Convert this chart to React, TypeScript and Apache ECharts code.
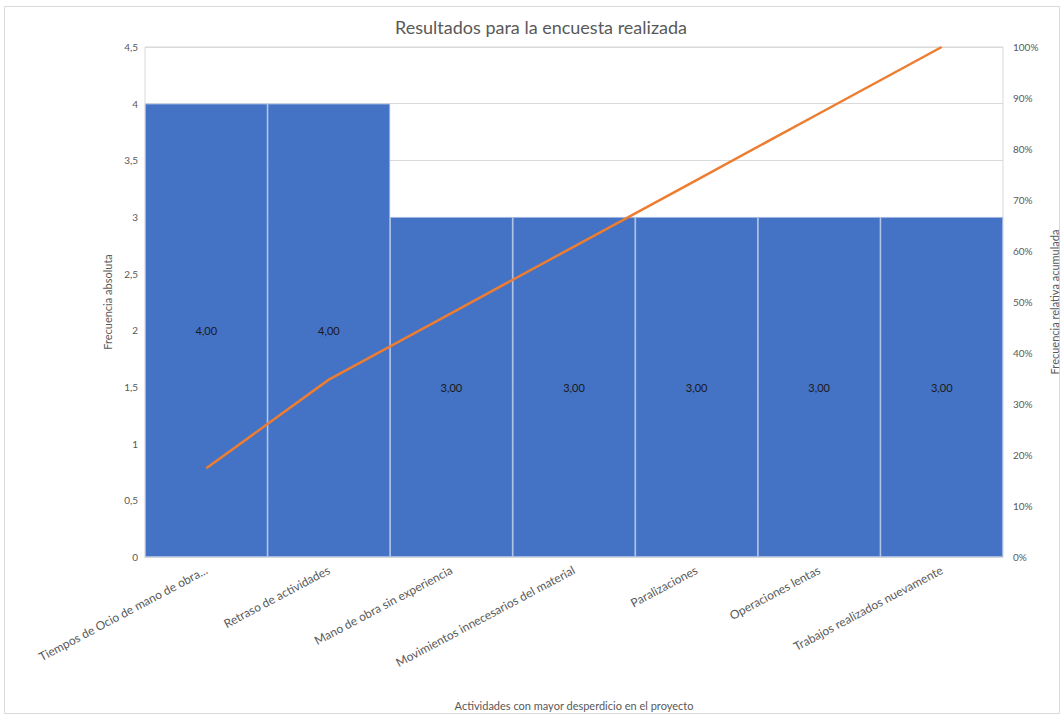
import React, { useEffect, useRef } from "react";
import * as echarts from "echarts";

const categories = [
  "Tiempos de Ocio de mano de obra...",
  "Retraso de actividades",
  "Mano de obra sin experiencia",
  "Movimientos innecesarios del material",
  "Paralizaciones",
  "Operaciones lentas",
  "Trabajos realizados nuevamente",
];
const frequencies = [4, 4, 3, 3, 3, 3, 3];
const cumulativePercent = [17.39, 34.78, 47.83, 60.87, 73.91, 86.96, 100];

const FONT = "Lato, 'Open Sans', sans-serif";
const GREY = "#595959";

export default function App() {
  const ref = useRef<HTMLDivElement>(null);
  useEffect(() => {
    if (!ref.current) return;
    const chart = echarts.init(ref.current, undefined, { renderer: "svg" });
    chart.setOption({
      animation: false,
      backgroundColor: "#ffffff",
      textStyle: { fontFamily: FONT },
      title: {
        text: "Resultados para la encuesta realizada",
        left: 536,
        textAlign: "center",
        top: 13,
        textStyle: { fontFamily: FONT, fontSize: 18, fontWeight: "normal", color: GREY },
      },
      graphic: [
        {
          type: "rect",
          shape: { x: 4.5, y: 6.5, width: 1055, height: 707 },
          style: { fill: "none", stroke: "#d9d9d9", lineWidth: 1 },
          silent: true,
          z: -10,
        },
      ],
      grid: {
        left: 145,
        right: 61,
        top: 47,
        bottom: 161,
        outerBoundsMode: "none",
        containLabel: false,
        show: true,
        borderColor: "#d9d9d9",
        borderWidth: 1,
      },
      xAxis: {
        type: "category",
        data: categories,
        boundaryGap: true,
        axisTick: { show: false },
        axisLine: { lineStyle: { color: "#d9d9d9" } },
        axisLabel: {
          interval: 0,
          rotate: 28,
          margin: 12,
          color: GREY,
          fontSize: 12,
          fontFamily: FONT,
        },
        name: "Actividades con mayor desperdicio en el proyecto",
        nameLocation: "middle",
        nameGap: 143,
        nameTextStyle: { color: GREY, fontSize: 11, fontFamily: FONT },
      },
      yAxis: [
        {
          type: "value",
          min: 0,
          max: 4.5,
          interval: 0.5,
          axisLine: { show: false },
          axisTick: { show: false },
          splitLine: { lineStyle: { color: "#d9d9d9", width: 1 } },
          axisLabel: {
            color: GREY,
            fontSize: 10,
            fontFamily: FONT,
            margin: 7,
            formatter: (v: number) => String(v).replace(".", ","),
          },
          name: "Frecuencia absoluta",
          nameLocation: "middle",
          nameGap: 32,
          nameTextStyle: { color: GREY, fontSize: 11, fontFamily: FONT },
        },
        {
          type: "value",
          min: 0,
          max: 100,
          interval: 10,
          position: "right",
          axisLine: { show: false },
          axisTick: { show: false },
          splitLine: { show: false },
          axisLabel: {
            color: GREY,
            fontSize: 10,
            fontFamily: FONT,
            margin: 10,
            formatter: "{value}%",
          },
          name: "Frecuencia relativa acumulada",
          nameLocation: "middle",
          nameGap: 43,
          nameTextStyle: { color: GREY, fontSize: 11, fontFamily: FONT },
        },
      ],
      series: [
        {
          type: "bar",
          data: frequencies,
          yAxisIndex: 0,
          barCategoryGap: "0%",
          itemStyle: { color: "#4472C4", borderColor: "#a9bde6", borderWidth: 0.8 },
          label: {
            show: true,
            position: "inside",
            color: "#1a1a1a",
            fontSize: 11,
            fontFamily: FONT,
            formatter: (p: any) => Number(p.value).toFixed(2).replace(".", ","),
          },
          z: 2,
        },
        {
          type: "line",
          data: cumulativePercent,
          yAxisIndex: 1,
          symbol: "none",
          lineStyle: { color: "#ED7D31", width: 2.5 },
          itemStyle: { color: "#ED7D31" },
          z: 3,
        },
      ],
    });
    return () => chart.dispose();
  }, []);
  return (
    <div
      ref={ref}
      style={{ position: "absolute", left: 0, top: 0, width: 1064, height: 718 }}
    />
  );
}
